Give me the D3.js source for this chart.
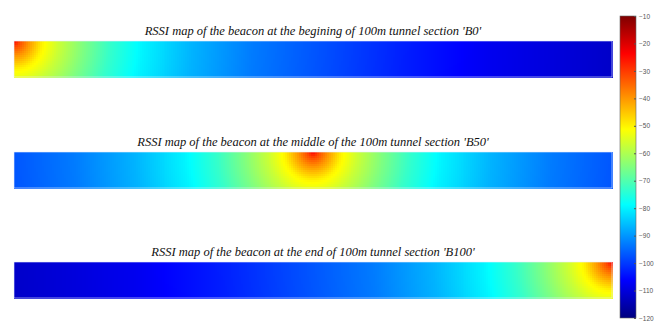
<!DOCTYPE html>
<html>
<head>
<meta charset="utf-8">
<script src="https://cdn.jsdelivr.net/npm/d3@7"></script>
<style>
  html, body { margin: 0; padding: 0; background: #fff; }
  svg { display: block; }
</style>
</head>
<body>
<svg id="chart" width="661" height="323"></svg>
<script>
// Beacon scenarios along a 100 m tunnel section
const panelTitles = [
  "RSSI map of the beacon at the begining of 100m tunnel section 'B0'",
  "RSSI map of the beacon at the middle of the 100m tunnel section 'B50'",
  "RSSI map of the beacon at the end of 100m tunnel section 'B100'"
];
const beaconX = [0, 50, 100];   // position along the tunnel (m)
const beaconY = [0, 0, 0];      // position across the tunnel, from the top wall (m)

// Measured RSSI attenuation with distance from the beacon
const distanceM = [0, 1, 2.5, 4.7, 7.5, 11.5, 16, 21.5, 30, 40, 50, 65, 80, 100];
const rssiDbm   = [-24, -32, -40, -50, -57, -65, -73, -80, -87, -93, -97, -103, -108, -112];

// Colour bar ticks (dBm)
const colorTicks = [-10, -20, -30, -40, -50, -60, -70, -80, -90, -100, -110, -120];

const tunnelLength = 100;  // m
const tunnelWidth = 6;     // m
const cellSize = 1 / 3;    // m

const svg = d3.select("#chart");

// Jet colour map over the RSSI range
const jetStops = [0, 0.125, 0.375, 0.625, 0.875, 1];
const jetColors = ["#00007f", "#0000ff", "#00ffff", "#ffff00", "#ff0000", "#7f0000"];
const rssiMin = -120, rssiMax = -10;
const color = d3.scaleLinear()
  .domain(jetStops.map(t => rssiMin + t * (rssiMax - rssiMin)))
  .range(jetColors)
  .interpolate(d3.interpolateRgb)
  .clamp(true);

const attenuation = d3.scaleLinear().domain(distanceM).range(rssiDbm).clamp(true);

const plotLeft = 14, plotRight = 612;
const panelTops = [41, 152, 262];
const panelHeight = 36;

const x = d3.scaleLinear().domain([0, tunnelLength]).range([plotLeft, plotRight]);

const cols = d3.range(0, tunnelLength, cellSize);
const rows = d3.range(0, tunnelWidth, cellSize);

panelTitles.forEach((title, i) => {
  const top = panelTops[i];
  const y = d3.scaleLinear().domain([0, tunnelWidth]).range([top, top + panelHeight]);

  const cells = [];
  for (const cx of cols) {
    for (const cy of rows) {
      const mx = cx + cellSize / 2, my = cy + cellSize / 2;
      const d = Math.hypot(mx - beaconX[i], my - beaconY[i]);
      cells.push({ cx, cy, v: attenuation(d) });
    }
  }

  const g = svg.append("g").attr("class", "panel");
  g.selectAll("rect.cell")
    .data(cells)
    .join("rect")
    .attr("class", "cell")
    .attr("x", d => x(d.cx))
    .attr("y", d => y(d.cy))
    .attr("width", x(cellSize) - x(0) + 0.6)
    .attr("height", y(cellSize) - y(0) + 0.6)
    .attr("fill", d => color(d.v))
    .attr("shape-rendering", "crispEdges");

  g.append("rect")
    .attr("x", plotLeft).attr("y", top)
    .attr("width", plotRight - plotLeft).attr("height", panelHeight)
    .attr("fill", "none")
    .attr("stroke", "#e6eefa")
    .attr("stroke-width", 0.6);

  svg.append("text")
    .attr("x", (plotLeft + plotRight) / 2)
    .attr("y", top - 6)
    .attr("text-anchor", "middle")
    .attr("font-family", "'Liberation Serif', 'Times New Roman', serif")
    .attr("font-style", "italic")
    .attr("font-size", 12.5)
    .attr("fill", "#111")
    .text(title);
});

// Colour bar
const barX = 620, barW = 16, barTop = 16, barBottom = 318;
const cy = d3.scaleLinear().domain([rssiMin, rssiMax]).range([barBottom, barTop]);

const defs = svg.append("defs");
const grad = defs.append("linearGradient")
  .attr("id", "jet")
  .attr("x1", 0).attr("y1", 1).attr("x2", 0).attr("y2", 0);
grad.selectAll("stop")
  .data(jetStops)
  .join("stop")
  .attr("offset", d => d)
  .attr("stop-color", (d, k) => jetColors[k]);

svg.append("rect")
  .attr("x", barX).attr("y", barTop)
  .attr("width", barW).attr("height", barBottom - barTop)
  .attr("fill", "url(#jet)")
  .attr("stroke", "#666")
  .attr("stroke-width", 0.6);

const axis = d3.axisRight(cy)
  .tickValues(colorTicks)
  .tickSize(2)
  .tickFormat(d3.format("d"));

const axisG = svg.append("g")
  .attr("transform", `translate(${barX + barW},0)`)
  .call(axis);
axisG.select(".domain").remove();
axisG.selectAll(".tick line").attr("stroke", "#555").attr("x2", -2);
axisG.selectAll(".tick text")
  .attr("x", 3)
  .attr("fill", "#555")
  .attr("font-family", "'Liberation Sans', Arial, sans-serif")
  .attr("font-size", 6.5);
</script>
</body>
</html>
